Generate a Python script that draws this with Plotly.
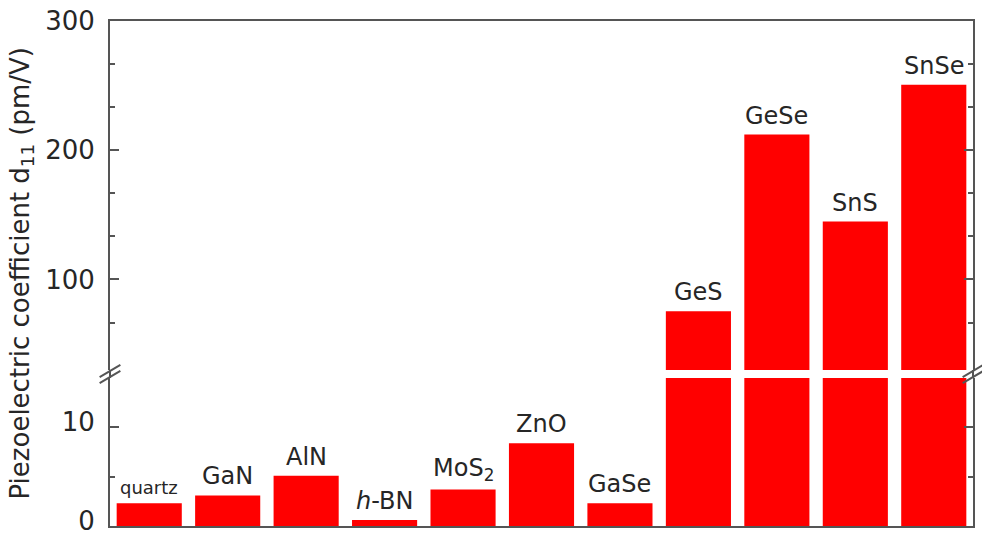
import plotly.graph_objects as go

# Piezoelectric coefficient d11 of common piezoelectrics and group-IV monochalcogenides
materials = ["quartz", "GaN", "AlN", "h-BN", "MoS2", "ZnO", "GaSe",
             "GeS", "GeSe", "SnS", "SnSe"]
labels = ["quartz", "GaN", "AlN", "<i>h</i>-BN", "MoS<sub>2</sub>", "ZnO", "GaSe",
          "GeS", "GeSe", "SnS", "SnSe"]
d11 = [2.3, 3.1, 5.1, 0.6, 3.7, 8.4, 2.3, 75.4, 212.1, 144.8, 250.6]

# broken y axis: lower and upper segments
lower_range = [0, 15]
upper_range = [30, 300]
upper_ticks = [100, 200, 300]
upper_minor = [66.67, 133.33, 166.67, 233.33, 266.67]
lower_ticks = [0, 10]
lower_minor = [5]

RED = "#ff0000"
AXIS = "#555555"
TXT = "#262626"
FONT = "DejaVu Sans"

fig = go.Figure()
fig.add_trace(go.Bar(x=materials, y=d11, marker=dict(color=RED, line=dict(width=0)),
                     xaxis="x", yaxis="y", hoverinfo="x+y", showlegend=False))
fig.add_trace(go.Bar(x=materials, y=d11, marker=dict(color=RED, line=dict(width=0)),
                     xaxis="x2", yaxis="y2", hoverinfo="x+y", showlegend=False))

# value labels above each bar, placed on whichever segment holds the bar top
for m, lab, v in zip(materials, labels, d11):
    upper = v > lower_range[1]
    fig.add_annotation(x=m, y=v, text=lab, showarrow=False,
                       xref="x" if upper else "x2", yref="y" if upper else "y2",
                       yanchor="bottom", yshift=3,
                       font=dict(family=FONT, size=18 if m == "quartz" else 24, color=TXT))

yax_common = dict(showline=True, linecolor=AXIS, linewidth=2, mirror="ticks",
                  ticks="inside", ticklen=9, tickwidth=2, tickcolor=AXIS,
                  showgrid=False, zeroline=False, ticklabelstandoff=8,
                  ticklabeloverflow="allow", automargin=False,
                  tickfont=dict(family=FONT, size=26, color=TXT))

xax_common = dict(range=[-0.5, 10.5], showticklabels=False, showline=True,
                  linecolor=AXIS, linewidth=2, ticks="", showgrid=False,
                  automargin=False)

fig.update_layout(
    width=982, height=537,
    margin=dict(l=110, r=9, t=21, b=11),
    paper_bgcolor="white", plot_bgcolor="white",
    bargap=0.17,
    xaxis=dict(anchor="y", side="top", **xax_common),
    xaxis2=dict(anchor="y2", **xax_common),
    yaxis=dict(domain=[0.309, 1], range=upper_range, tickvals=upper_ticks,
               minor=dict(tickvals=upper_minor, ticks="inside", ticklen=5,
                          tickwidth=2, tickcolor=AXIS),
               **yax_common),
    yaxis2=dict(domain=[0, 0.293], range=lower_range, tickvals=lower_ticks,
                ticklabelshift=-5,
                minor=dict(tickvals=lower_minor, ticks="inside", ticklen=5,
                           tickwidth=2, tickcolor=AXIS),
                **yax_common),
)

# axis title
fig.add_annotation(xref="paper", yref="paper", x=0, y=0.5, xanchor="center",
                   yanchor="middle", xshift=-89, textangle=-90, showarrow=False,
                   text="Piezoelectric coefficient d<sub>11</sub> (pm/V)",
                   font=dict(family=FONT, size=26, color=TXT))

# axis lines bridging the gap and the break marks
gap_lo, gap_hi = 0.293, 0.309
for xp in (0, 1):
    fig.add_shape(type="line", xref="paper", yref="paper", x0=xp, x1=xp,
                  y0=gap_lo, y1=gap_hi, line=dict(color=AXIS, width=2))
    for dy in (-0.006, 0.006):
        fig.add_shape(type="line", xref="paper", yref="paper",
                      x0=xp - 0.012, x1=xp + 0.012,
                      y0=0.301 + dy - 0.012, y1=0.301 + dy + 0.012,
                      line=dict(color=AXIS, width=2))

fig.write_html("out.html")
